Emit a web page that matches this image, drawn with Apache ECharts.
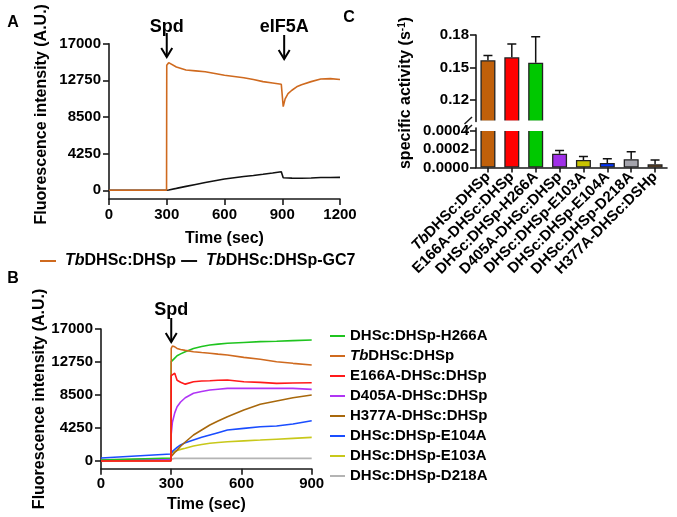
<!DOCTYPE html>
<html><head><meta charset="utf-8">
<script src="https://cdn.jsdelivr.net/npm/echarts@6/dist/echarts.min.js"></script>
<style>html,body{margin:0;padding:0;background:#fff}#c{width:677px;height:517px}</style>
</head><body><div id="c"></div>
<script>
// ---------- Panel A data ----------
const timeA = [0, 299, 300, 310, 320, 350, 400, 450, 500, 550, 600, 650, 700, 750, 800, 850, 895, 900, 905, 915, 930, 950, 975, 1000, 1050, 1100, 1150, 1200];
const orangeA = [0, 0, 14500, 14800, 14600, 14300, 13950, 13850, 13750, 13550, 13350, 13200, 13050, 12850, 12600, 12450, 12300, 12150, 9700, 10600, 11200, 11600, 12000, 12250, 12600, 12900, 12950, 12850];
const blackA = [0, 0, 0, 40, 80, 220, 450, 680, 900, 1100, 1300, 1450, 1600, 1720, 1850, 2000, 2150, 2250, 1450, 1430, 1420, 1410, 1400, 1400, 1420, 1480, 1490, 1500];
const namesA = ['TbDHSc:DHSp', 'TbDHSc:DHSp-GC7'];
const yTicksAB = [0, 4250, 8500, 12750, 17000];

// ---------- Panel B data ----------
const timeB = [0, 299, 300, 305, 315, 325, 340, 360, 395, 430, 465, 500, 540, 610, 680, 750, 820, 900];
const greenB  = [130, 400, 12800, 12900, 13250, 13550, 13800, 14080, 14500, 14750, 14940, 15050, 15160, 15270, 15370, 15430, 15500, 15580];
const orangeB = [0, 0, 14500, 14810, 14700, 14500, 14350, 14250, 14080, 13970, 13870, 13760, 13650, 13350, 13100, 12790, 12580, 12360];
const redB    = [0, 0, 11000, 11250, 11300, 10400, 10150, 9900, 10200, 10300, 10340, 10400, 10430, 10210, 10130, 10000, 10050, 10080];
const purpleB = [80, 250, 3500, 5000, 6200, 7000, 7600, 8150, 8720, 8950, 9140, 9250, 9360, 9380, 9360, 9360, 9360, 9230];
const brownB  = [50, 200, 600, 770, 1100, 1400, 1900, 2450, 3350, 4000, 4640, 5150, 5710, 6570, 7300, 7730, 8150, 8500];
const blueB   = [390, 900, 1150, 1250, 1500, 1750, 2080, 2350, 2700, 3050, 3350, 3650, 3990, 4210, 4420, 4510, 4770, 5190];
const yellowB = [100, 300, 1000, 1100, 1250, 1350, 1500, 1650, 1930, 2120, 2280, 2390, 2490, 2600, 2700, 2810, 2920, 3050];
const grayB   = [200, 250, 340, 340, 340, 340, 340, 340, 340, 340, 340, 340, 340, 340, 340, 340, 340, 340];
const namesB = ['DHSc:DHSp-H266A', 'TbDHSc:DHSp', 'E166A-DHSc:DHSp', 'D405A-DHSc:DHSp', 'H377A-DHSc:DHSp', 'DHSc:DHSp-E104A', 'DHSc:DHSp-E103A', 'DHSc:DHSp-D218A'];

// ---------- Panel C data ----------
const catsC = ['TbDHSc:DHSp', 'E166A-DHSc:DHSp', 'DHSc:DHSp-H266A', 'D405A-DHSc:DHSp', 'DHSc:DHSp-E103A', 'DHSc:DHSp-E104A', 'DHSc:DHSp-D218A', 'H377A-DHSc:DSHp'];
const valsC = [0.1566, 0.1594, 0.1544, 0.000152, 0.0000834, 0.000049, 0.0000914, 0.0000343];
const errC  = [0.0044, 0.0122, 0.0240, 0.000034, 0.000038, 0.000046, 0.00008, 0.000049];
const upperTicksC = [0.12, 0.15, 0.18];
const lowerTicksC = [0, 0.0002, 0.0004];

// ---------- styles ----------
const FONT = 'Liberation Sans, Arial, sans-serif';
const colB = {green:'#1fc41f', orange:'#cf6a1f', red:'#ff1a1a', purple:'#b035f5', brown:'#a8680c', blue:'#1a4dff', yellow:'#c8c81a', gray:'#b4b4b4'};
const barColors = ['#c0600a', '#ff0000', '#00c800', '#a030e8', '#c8c400', '#0033ff', '#a4a4ac', '#c26c14'];
const AX = '#1a1a1a';
const lbl = {fontSize: 15, fontWeight: 'bold', color: '#000', fontFamily: FONT};
const axisCommon = {
  axisLine: {show: true, onZero: false, lineStyle: {color: AX, width: 1.6}},
  axisTick: {show: true, length: 6, lineStyle: {color: AX, width: 1.6}},
  splitLine: {show: false}
};
const tbFmt = v => v.indexOf('Tb') === 0 ? '{i|Tb}' + v.slice(2) : v;
const plain = v => String(v);

function zip(xs, ys) { return xs.map((x, i) => [x, ys[i]]); }
function lineSeries(name, xi, data, color, z) {
  return {type: 'line', name, xAxisIndex: xi, yAxisIndex: xi, data, symbol: 'none', showSymbol: false,
    lineStyle: {color, width: 1.6}, itemStyle: {color}, z: z || 2, animation: false};
}
function errItem(params, api) {
  const i = api.value(0), v = api.value(1), hi = api.value(2);
  const p0 = api.coord([i, v]), p1 = api.coord([i, hi]);
  return {type: 'group', children: [
    {type: 'line', shape: {x1: p0[0], y1: p0[1], x2: p1[0], y2: p1[1]}, style: {stroke: '#111', lineWidth: 1.5}},
    {type: 'line', shape: {x1: p1[0] - 4.5, y1: p1[1], x2: p1[0] + 4.5, y2: p1[1]}, style: {stroke: '#111', lineWidth: 1.5}}
  ]};
}

const upMin = 0.1, upMax = 0.18, loMax = 0.000433;
const barData = valsC.map((v, i) => ({value: v, itemStyle: {color: barColors[i]}}));
const errUpper = valsC.map((v, i) => [i, v, v + errC[i]]).filter(d => d[1] > upMin);
const errLower = valsC.map((v, i) => [i, v, v + errC[i]]).filter(d => d[2] < loMax);

const chart = echarts.init(document.getElementById('c'), null, {renderer: 'canvas'});
const nameStyle = {fontSize: 16, fontWeight: 'bold', color: '#000', fontFamily: FONT};
const option = {
  animation: false,
  backgroundColor: '#fff',
  textStyle: {fontFamily: FONT},
  grid: [
    {left: 109, top: 43.7, width: 231, height: 155.2},
    {left: 101, top: 329, width: 210.7, height: 139.8},
    {left: 476, top: 35, width: 191, height: 86.5},
    {left: 476, top: 128, width: 191, height: 39.5}
  ],
  xAxis: [
    Object.assign({type: 'value', gridIndex: 0, min: 0, max: 1200, interval: 300,
      name: 'Time (sec)', nameLocation: 'middle', nameGap: 32, nameTextStyle: nameStyle,
      axisLabel: Object.assign({margin: 8, formatter: plain}, lbl)}, axisCommon),
    Object.assign({type: 'value', gridIndex: 1, min: 0, max: 900, interval: 300,
      name: 'Time (sec)', nameLocation: 'middle', nameGap: 28, nameTextStyle: nameStyle,
      axisLabel: Object.assign({margin: 8, formatter: plain}, lbl)}, axisCommon),
    {type: 'category', gridIndex: 2, data: catsC, show: false},
    Object.assign({type: 'category', gridIndex: 3, data: catsC,
      axisLabel: Object.assign({rotate: 45, interval: 0, margin: 7, formatter: tbFmt,
        rich: {i: {fontStyle: 'italic', fontWeight: 'bold', fontSize: 15, color: '#000', fontFamily: FONT}}}, lbl)},
      axisCommon, {axisTick: {show: true, alignWithLabel: true, interval: 0, length: 5, lineStyle: {color: AX, width: 1.6}}})
  ],
  yAxis: [
    Object.assign({type: 'value', gridIndex: 0, min: -1000, max: 17000,
      name: 'Fluorescence intensity (A.U.)', nameLocation: 'middle', nameGap: 59, nameRotate: 90,
      nameTextStyle: Object.assign({padding: [0, 0, 0, 14]}, nameStyle),
      axisLabel: Object.assign({customValues: yTicksAB, margin: 8, formatter: plain}, lbl)}, axisCommon,
      {axisTick: {show: true, customValues: yTicksAB, length: 6, lineStyle: {color: AX, width: 1.6}}}),
    Object.assign({type: 'value', gridIndex: 1, min: -1000, max: 17000,
      name: 'Fluorescence intensity (A.U.)', nameLocation: 'middle', nameGap: 51, nameRotate: 90,
      nameTextStyle: nameStyle,
      axisLabel: Object.assign({customValues: yTicksAB, margin: 8, formatter: plain}, lbl)}, axisCommon,
      {axisTick: {show: true, customValues: yTicksAB, length: 6, lineStyle: {color: AX, width: 1.6}}}),
    Object.assign({type: 'value', gridIndex: 2, min: upMin, max: upMax,
      axisLabel: Object.assign({customValues: upperTicksC, margin: 7, formatter: v => v.toFixed(2)}, lbl)}, axisCommon,
      {axisTick: {show: true, customValues: upperTicksC, length: 6, lineStyle: {color: AX, width: 1.6}}}),
    Object.assign({type: 'value', gridIndex: 3, min: 0, max: loMax,
      axisLabel: Object.assign({customValues: lowerTicksC, margin: 7, formatter: v => v.toFixed(4)}, lbl)}, axisCommon,
      {axisTick: {show: true, customValues: lowerTicksC, length: 6, lineStyle: {color: AX, width: 1.6}}})
  ],
  legend: [
    {data: namesA, left: 35, top: 248, orient: 'horizontal', icon: 'rect', itemWidth: 16, itemHeight: 2, itemGap: 5,
      formatter: tbFmt, selectedMode: false,
      textStyle: {fontSize: 16, fontWeight: 'bold', color: '#000', fontFamily: FONT, padding: [0, 0, 0, 4],
        rich: {i: {fontStyle: 'italic', fontWeight: 'bold', fontSize: 16, color: '#000', fontFamily: FONT}}}},
    {data: namesB, left: 325, top: 321, orient: 'vertical', icon: 'rect', itemWidth: 15, itemHeight: 2, itemGap: 0,
      formatter: tbFmt, selectedMode: false,
      textStyle: {fontSize: 15, fontWeight: 'bold', color: '#000', fontFamily: FONT, lineHeight: 20, padding: [0, 0, 0, 0],
        rich: {i: {fontStyle: 'italic', fontWeight: 'bold', fontSize: 15, color: '#000', fontFamily: FONT, lineHeight: 20}}}}
  ],
  series: [
    lineSeries('TbDHSc:DHSp-GC7', 0, zip(timeA, blackA), '#111', 2),
    lineSeries('TbDHSc:DHSp', 0, zip(timeA, orangeA), colB.orange, 3),
    lineSeries('DHSc:DHSp-D218A', 1, zip(timeB, grayB), colB.gray, 2),
    lineSeries('DHSc:DHSp-E103A', 1, zip(timeB, yellowB), colB.yellow, 2),
    lineSeries('DHSc:DHSp-E104A', 1, zip(timeB, blueB), colB.blue, 2),
    lineSeries('H377A-DHSc:DHSp', 1, zip(timeB, brownB), colB.brown, 2),
    lineSeries('D405A-DHSc:DHSp', 1, zip(timeB, purpleB), colB.purple, 2),
    lineSeries('DHSc:DHSp-H266A', 1, zip(timeB, greenB), colB.green, 2),
    lineSeries('TbDHSc:DHSp', 1, zip(timeB, orangeB), colB.orange, 3),
    lineSeries('E166A-DHSc:DHSp', 1, zip(timeB, redB), colB.red, 4),
    {type: 'bar', xAxisIndex: 2, yAxisIndex: 2, data: barData, barWidth: 15, clip: true,
      itemStyle: {borderColor: '#222', borderWidth: 1.3}, z: 2},
    {type: 'bar', xAxisIndex: 3, yAxisIndex: 3, data: barData, barWidth: 15, clip: true,
      itemStyle: {borderColor: '#222', borderWidth: 1.3}, z: 2},
    {type: 'custom', xAxisIndex: 2, yAxisIndex: 2, data: errUpper, renderItem: errItem, encode: {x: 0, y: 1}, clip: true, z: 3},
    {type: 'custom', xAxisIndex: 3, yAxisIndex: 3, data: errLower, renderItem: errItem, encode: {x: 0, y: 1}, clip: true, z: 3}
  ]
};
chart.setOption(option);

// annotations placed through the axes' scales
const xSpdA = chart.convertToPixel({xAxisIndex: 0}, 300);
const xEifA = chart.convertToPixel({xAxisIndex: 0}, 910);
const xSpdB = chart.convertToPixel({xAxisIndex: 1}, 300);
function arrow(x, y0, y1) {
  return [
    {type: 'line', shape: {x1: x, y1: y0, x2: x, y2: y1}, style: {stroke: '#000', lineWidth: 2}, z: 10},
    {type: 'polyline', shape: {points: [[x - 5.5, y1 - 9], [x, y1], [x + 5.5, y1 - 9]]}, style: {stroke: '#000', lineWidth: 2, fill: null}, z: 10}
  ];
}
function txt(text, x, y, size, extra) {
  return Object.assign({type: 'text', x, y, z: 10,
    style: {text, fontSize: size, fontWeight: 'bold', fill: '#000', fontFamily: FONT, align: 'center', verticalAlign: 'middle'}}, extra || {});
}
const graphics = [
  txt('A', 13, 23, 16), txt('B', 13, 279, 16), txt('C', 349, 18, 16),
  txt('Spd', xSpdA, 27, 18), ...arrow(xSpdA, 33, 57),
  txt('eIF5A', xEifA, 27, 18), ...arrow(xEifA, 35, 59),
  txt('Spd', xSpdB, 310, 18), ...arrow(xSpdB, 318, 342),
  {type: 'text', x: 406, y: 93, rotation: Math.PI / 2, z: 10,
    style: {text: 'specific activity (s{sup|-1})', fontSize: 16, fontWeight: 'bold', fill: '#000', fontFamily: FONT,
      align: 'center', verticalAlign: 'middle',
      rich: {sup: {fontSize: 10, fontWeight: 'bold', fill: '#000', fontFamily: FONT, verticalAlign: 'top', lineHeight: 18}}}},
  // white gap of the broken axis
  {type: 'rect', shape: {x: 477, y: 120.6, width: 70, height: 10.5}, style: {fill: '#fff'}, z: 9},
  {type: 'line', shape: {x1: 464.5, y1: 124, x2: 472, y2: 117}, style: {stroke: AX, lineWidth: 1.5}, z: 10},
  {type: 'line', shape: {x1: 464.5, y1: 132, x2: 472, y2: 125}, style: {stroke: AX, lineWidth: 1.5}, z: 10}
];
chart.setOption({graphic: graphics});
</script></body></html>
